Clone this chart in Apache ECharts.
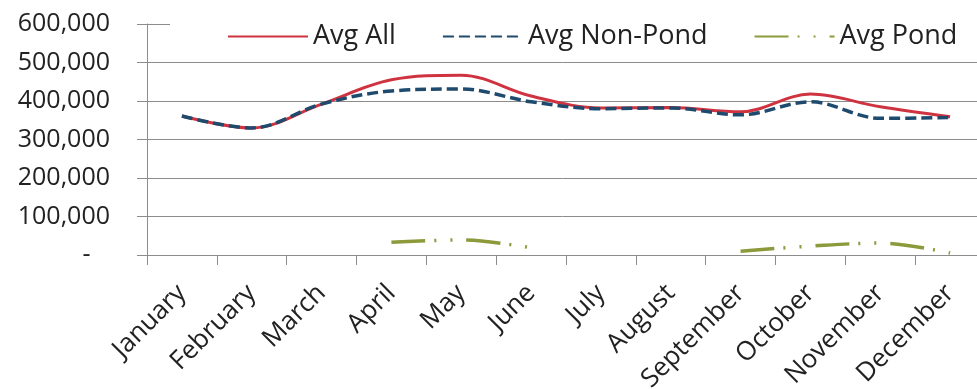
<!DOCTYPE html>
<html><head><meta charset="utf-8">
<script src="https://cdn.jsdelivr.net/npm/echarts@6/dist/echarts.min.js"></script>
<style>html,body{margin:0;padding:0;background:#fff}#c{width:977px;height:389px}</style>
</head><body><div id="c"></div>
<script>
const months = ['January','February','March','April','May','June','July','August','September','October','November','December'];
const avgAll = [361000, 330000, 392000, 455000, 467000, 413000, 382000, 383000, 372000, 418000, 385000, 359000];
const avgNonPond = [361000, 330000, 392000, 426000, 431000, 398000, 380000, 382000, 364000, 398000, 355000, 357000];
const avgPond = [null, null, null, 33000, 39000, 19000, null, null, 10000, 23000, 31000, 5000];

const font = 'Open Sans';
const chart = echarts.init(document.getElementById('c'), null, {renderer: 'canvas'});
function fmt(v) {
  if (v === 0) return '-   ';
  return v.toLocaleString('en-US');
}
chart.setOption({
  animation: false,
  textStyle: {fontFamily: font},
  grid: {left: 147, top: 24, bottom: 134, right: -8, containLabel: false, outerBoundsMode: 'none'},
  graphic: [{type: 'rect', shape: {x: 170, y: 12, width: 820, height: 40}, style: {fill: '#fff'}, z: 3, silent: true}],
  legend: {
    z: 5,
    left: 222, top: 18,
    itemWidth: 80, itemHeight: 14, itemGap: 46,
    itemStyle: {opacity: 0},
    textStyle: {fontFamily: font, fontSize: 27, color: '#222'},
    data: ['Avg All', 'Avg Non-Pond', 'Avg Pond']
  },
  xAxis: {
    type: 'category', data: months, boundaryGap: true,
    axisLine: {lineStyle: {color: '#8c8c8c', width: 1}},
    axisTick: {show: true, length: 10, lineStyle: {color: '#8c8c8c'}},
    axisLabel: {rotate: 45, margin: 34, fontFamily: font, fontSize: 26, color: '#222', interval: 0}
  },
  yAxis: {
    type: 'value', min: 0, max: 600000, interval: 100000,
    axisLine: {show: true, lineStyle: {color: '#8c8c8c', width: 1}},
    axisTick: {show: true, length: 10, inside: false, lineStyle: {color: '#8c8c8c'}},
    splitLine: {show: true, lineStyle: {color: '#8c8c8c', width: 1}},
    axisLabel: {margin: 37, fontFamily: font, fontSize: 25, color: '#222', formatter: fmt}
  },
  series: [
    {name: 'Avg All', type: 'line', data: avgAll, smooth: 0.35, symbol: 'none',
     lineStyle: {color: '#cf3340', width: 3}, itemStyle: {color: '#cf3340'}, z: 2},
    {name: 'Avg Non-Pond', type: 'line', data: avgNonPond, smooth: 0.35, symbol: 'none',
     lineStyle: {color: '#1e4a6e', width: 3.5, type: [11, 5]}, itemStyle: {color: '#1e4a6e'}, z: 3},
    {name: 'Avg Pond', type: 'line', data: avgPond, smooth: 0.35, symbol: 'none', connectNulls: false,
     lineStyle: {color: '#8c9a3c', width: 3.5, type: [34, 9, 2, 14, 2, 14]}, itemStyle: {color: '#8c9a3c'}, z: 2}
  ]
});
</script></body></html>
